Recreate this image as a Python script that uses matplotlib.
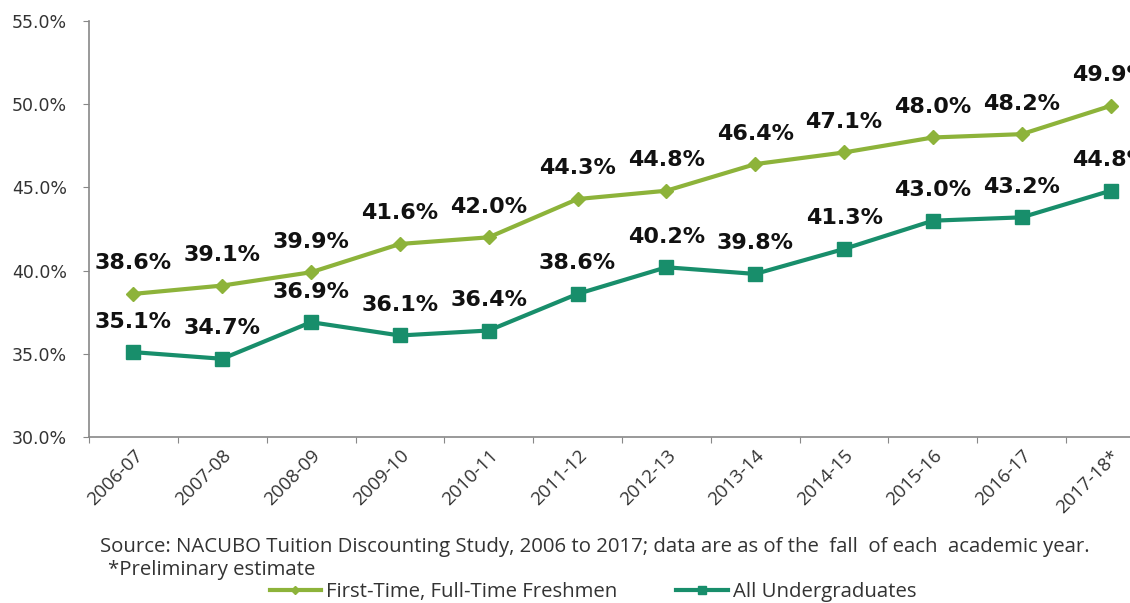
import matplotlib.pyplot as plt
import matplotlib.ticker as mticker

years = ["2006-07", "2007-08", "2008-09", "2009-10", "2010-11", "2011-12",
         "2012-13", "2013-14", "2014-15", "2015-16", "2016-17", "2017-18*"]
freshmen = [38.6, 39.1, 39.9, 41.6, 42.0, 44.3, 44.8, 46.4, 47.1, 48.0, 48.2, 49.9]
undergrads = [35.1, 34.7, 36.9, 36.1, 36.4, 38.6, 40.2, 39.8, 41.3, 43.0, 43.2, 44.8]

OLIVE = "#8db33a"
TEAL = "#188e6b"
TXT = "Open Sans"

fig = plt.figure(figsize=(11.3, 6.03), dpi=100)
ax = fig.add_axes([89 / 1130, 166 / 603, 1066 / 1130, 416 / 603])

x = list(range(len(years)))
ax.plot(x, freshmen, color=OLIVE, lw=3, marker="D", ms=7.5,
        label="First-Time, Full-Time Freshmen", clip_on=False)
ax.plot(x, undergrads, color=TEAL, lw=3, marker="s", ms=10.5,
        label="All Undergraduates", clip_on=False)

for series in (freshmen, undergrads):
    for i, v in enumerate(series):
        ax.annotate(f"{v:.1f}%", (i, v), xytext=(0, 22), textcoords="offset points",
                    ha="center", va="center", fontsize=16, fontweight="bold",
                    color="#111111")

ax.set_xlim(-0.5, len(years) - 0.5)
ax.set_ylim(30, 55)
ax.yaxis.set_major_locator(mticker.MultipleLocator(5))
ax.yaxis.set_major_formatter(mticker.FuncFormatter(lambda v, p: f"{v:.1f}%"))
ax.tick_params(axis="y", labelsize=12.5, labelcolor="#333333", length=4,
               color="#888888", pad=12)

# boundary ticks between categories, labels at the centres
ax.set_xticks([i - 0.5 for i in x], minor=False)
ax.set_xticklabels([])
ax.set_xticks(x, minor=True)
ax.set_xticklabels(years, minor=True, rotation=45, ha="right", va="top",
                   rotation_mode="anchor", fontsize=13.5, family=TXT, color="#333333")
ax.tick_params(axis="x", which="major", length=4, color="#888888")
ax.tick_params(axis="x", which="minor", length=0, pad=7)

for s in ("top", "right"):
    ax.spines[s].set_visible(False)
for s in ("left", "bottom"):
    ax.spines[s].set_color("#888888")
    ax.spines[s].set_linewidth(1.2)

fig.text(100 / 1130, 1 - 547 / 603,
         "Source: NACUBO Tuition Discounting Study, 2006 to 2017; data are as of the  fall  of each  academic year.",
         ha="left", va="center", fontsize=14.7, family=TXT, color="#333333")
fig.text(108 / 1130, 1 - 570 / 603, "*Preliminary estimate",
         ha="left", va="center", fontsize=14.7, family=TXT, color="#333333")

handles, labels = ax.get_legend_handles_labels()
leg = fig.legend(handles, labels, loc="center", bbox_to_anchor=(593 / 1130, 1 - 592 / 603),
                 ncol=2, frameon=False, handlelength=2.5, handletextpad=0.25,
                 columnspacing=2.9, prop={"family": TXT, "size": 14.7}, markerscale=0.6)
for t in leg.get_texts():
    t.set_color("#333333")

fig.savefig("out.png", dpi=100)
